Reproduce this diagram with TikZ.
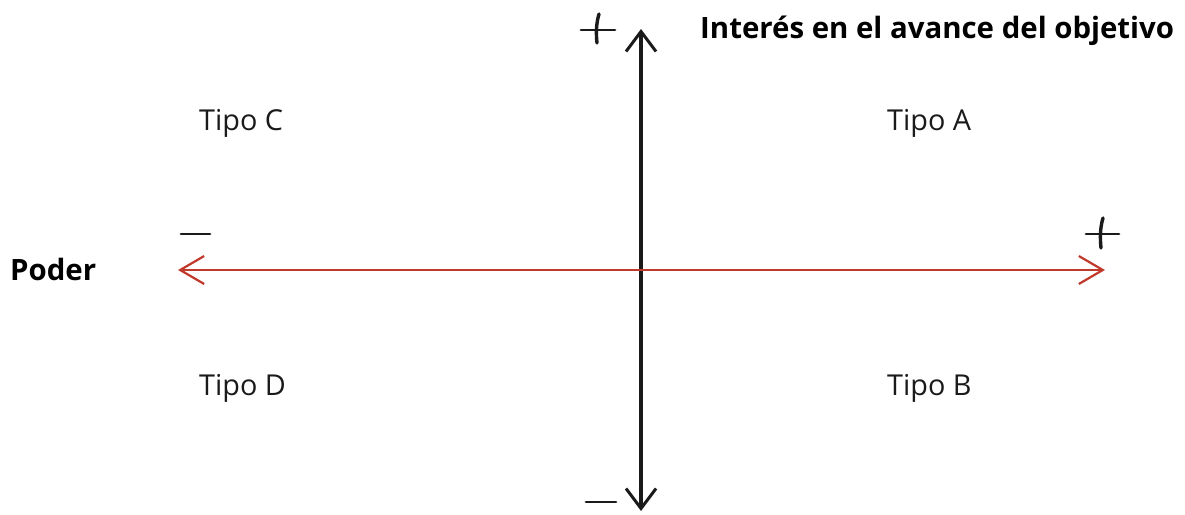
\documentclass[tikz,border=0pt]{standalone}
\usepackage{fontspec}
\setmainfont{Open Sans}
\usetikzlibrary{arrows.meta}
\definecolor{axred}{HTML}{C0392B}
\definecolor{ink}{HTML}{1A1A1A}
\begin{document}
\begin{tikzpicture}[x=1pt,y=-1pt,
  lbl/.style={anchor=base west,inner sep=0pt,font=\fontsize{28.8}{32}\selectfont,text=ink},
  ttl/.style={anchor=base west,inner sep=0pt,font=\fontsize{29.4}{33}\selectfont\bfseries,text=black},
  sign/.style={draw=ink,line width=2.8pt,line cap=round},
  vaxis/.style={draw=ink,line width=3.2pt,{Straight Barb[length=20pt,width=30pt,line width=3pt]}-{Straight Barb[length=20pt,width=30pt,line width=3pt]}},
  haxis/.style={draw=axred,line width=2pt,{Straight Barb[length=24pt,width=28pt,line width=2.2pt]}-{Straight Barb[length=24pt,width=28pt,line width=2.2pt]}}
]
\useasboundingbox (0,0) rectangle (1185,514);
\coordinate (vtop) at (641,29);
\coordinate (vbot) at (641,511);
\coordinate (hleft) at (178,270);
\coordinate (hright) at (1105,270);
\draw[vaxis] (vbot) -- (vtop);
\draw[haxis] (hleft) -- (hright);
% signs
\draw[sign] (581,30) -- (615,30);
\draw[sign,line width=3.4pt] (599,14) .. controls (596,24) and (596,34) .. (597,43);
\draw[sign] (586,502) -- (616,502);
\draw[sign] (181,234) -- (210,234);
\draw[sign] (1086,234) -- (1119,234);
\draw[sign,line width=3.4pt] (1103,218) .. controls (1100,228) and (1100,238) .. (1101,248);
% labels
\node[ttl] (title) at (700,38) {Interés en el avance del objetivo};
\node[ttl] (poder) at (10,280) {Poder};
\node[lbl] (tc) at (199,130) {Tipo C};
\node[lbl] (ta) at (887,130) {Tipo A};
\node[lbl] (td) at (199,395) {Tipo D};
\node[lbl] (tb) at (887,395) {Tipo B};
\end{tikzpicture}
\end{document}
